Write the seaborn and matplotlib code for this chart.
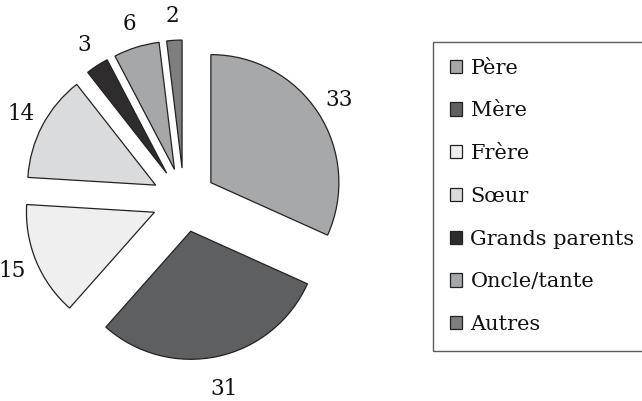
import numpy as np
import matplotlib
matplotlib.use("Agg")
import matplotlib.pyplot as plt
import seaborn as sns

categories = ["Père", "Mère", "Frère", "Sœur", "Grands parents", "Oncle/tante", "Autres"]
values = [33, 31, 15, 14, 3, 6, 2]
colors = ["#a7a8aa", "#5e5f61", "#efefef", "#dadbdc", "#2e2c2d", "#a6a7a9", "#7d7e80"]

sns.set_theme(style="white")
plt.rcParams["font.family"] = ["DejaVu Serif"]

W, H = 642, 401
fig = plt.figure(figsize=(W / 100, H / 100), dpi=100)

R = 128.0
cx, cy = 184.0, 200.0
ax_w = 400.0
ax = fig.add_axes([0, 0, ax_w / W, 1])

explode = 0.25
wedges, texts = ax.pie(
    values,
    labels=[str(v) for v in values],
    colors=colors,
    startangle=90,
    counterclock=False,
    explode=[explode] * len(values),
    radius=1.0,
    labeldistance=1.19,
    wedgeprops=dict(edgecolor="#222222", linewidth=0.9),
    textprops=dict(fontsize=15.5, color="#111111"),
    frame=True,
)
ax.set_xlim(-cx / R, (ax_w - cx) / R)
ax.set_ylim(-(H - cy) / R, cy / R)
ax.set_aspect("auto")
ax.axis("off")

# place value labels radially outside each (exploded) wedge
for w, t in zip(wedges, texts):
    mid = np.deg2rad((w.theta1 + w.theta2) / 2)
    c, s = np.cos(mid), np.sin(mid)
    ox, oy = explode * c, explode * s
    d = 1.19 + 0.07 * max(0.0, -s) ** 2
    t.set_position((ox + d * c, oy + d * s))
    t.set_horizontalalignment("center")
    t.set_verticalalignment("center")

leg = fig.legend(
    wedges,
    categories,
    loc="upper left",
    bbox_to_anchor=(433 / W, 1 - 42 / H),
    frameon=True,
    fancybox=False,
    shadow=False,
    fontsize=15,
    handlelength=0.6,
    handleheight=0.6,
    handletextpad=0.4,
    labelspacing=1.14,
    borderpad=0.8,
    borderaxespad=0,
)
leg.get_frame().set_edgecolor("#333333")
leg.get_frame().set_linewidth(1.0)
for txt in leg.get_texts():
    txt.set_color("#111111")

fig.savefig("out.png", dpi=100)
